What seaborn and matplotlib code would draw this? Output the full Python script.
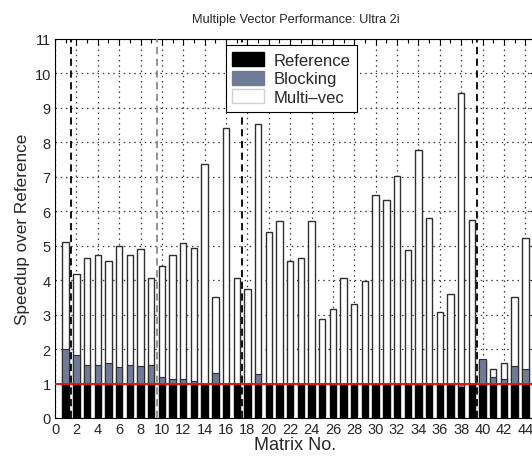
import pandas as pd
import seaborn as sns
import matplotlib.pyplot as plt
from matplotlib.patches import Patch
from matplotlib.ticker import MultipleLocator

# Speedup of each kernel over the reference implementation, per test matrix
matrices = [1, 2, 3, 4, 5, 6, 7, 8, 9, 10, 11, 12, 13, 14, 15, 16, 17, 18, 19, 20, 21, 22,
            23, 24, 25, 26, 27, 28, 29, 30, 31, 32, 33, 34, 35, 36, 37, 38, 39, 40, 41, 42, 43, 44]
reference = [1.00, 1.00, 1.00, 1.00, 1.00, 1.00, 1.00, 1.00, 1.00, 1.00, 1.00, 1.00, 1.00, 1.00,
             1.00, 1.00, 1.00, 1.00, 1.00, 1.00, 1.00, 1.00, 1.00, 1.00, 1.00, 1.00, 1.00, 1.00,
             1.00, 1.00, 1.00, 1.00, 1.00, 1.00, 1.00, 1.00, 1.00, 0.90, 1.00, 1.00, 1.00, 1.00,
             1.00, 1.00]
blocking = [2.00, 1.82, 1.55, 1.55, 1.60, 1.47, 1.55, 1.51, 1.55, 1.18, 1.13, 1.13, 1.08, 1.00,
            1.32, 1.00, 1.00, 1.00, 1.27, 1.00, 1.00, 1.00, 1.00, 1.00, 1.00, 1.00, 1.00, 1.00,
            1.00, 1.00, 1.00, 1.00, 1.00, 1.00, 1.00, 1.00, 1.00, 1.00, 1.00, 1.70, 1.19, 1.13,
            1.51, 1.41]
multivec = [5.12, 4.18, 4.65, 4.74, 4.56, 4.98, 4.74, 4.91, 4.07, 4.40, 4.74, 5.07, 4.92, 7.37,
            3.52, 8.42, 4.07, 3.73, 8.53, 5.39, 5.73, 4.55, 4.65, 5.71, 2.86, 3.15, 4.07, 3.32,
            3.98, 6.48, 6.33, 7.01, 4.88, 7.78, 5.81, 3.07, 3.60, 9.43, 5.76, 1.68, 1.41, 1.60,
            3.52, 5.22]
group_breaks = [1.5, 9.5, 17.5, 39.5]
break_colors = ["black", "#8a8a8a", "black", "black"]
series_names = ["Reference", "Blocking", "Multi\u2013vec"]

df = pd.DataFrame({"matrix": matrices, "reference": reference,
                   "blocking": blocking, "multivec": multivec})

sns.set_style("white")
plt.rcParams["font.family"] = ["Liberation Sans", "DejaVu Sans"]
plt.rcParams["font.size"] = 10

fig = plt.figure(figsize=(5.32, 4.60), dpi=100)
ax = fig.add_axes([55 / 532, 41 / 460, 481 / 532, 379 / 460])

blue = "#6d7b96"
edge = "#2e2e2e"
common = dict(x="matrix", native_scale=True, width=0.6, errorbar=None,
              saturation=1, ax=ax, zorder=3)
sns.barplot(data=df, y="multivec", color="white", edgecolor=edge, linewidth=1.0, **common)
sns.barplot(data=df, y="blocking", color=blue, edgecolor=edge, linewidth=0.8, **common)
sns.barplot(data=df, y="reference", color="black", edgecolor="black", linewidth=0.5, **common)

# group separators and the baseline
for xb, c in zip(group_breaks, break_colors):
    ax.axvline(xb, color=c, lw=1.3, dashes=(4, 2.5), zorder=4)
ax.axhline(1.0, color="#e8140c", lw=1.4, zorder=5)

ax.set_xlim(0, 45)
ax.set_ylim(0, 11)
ax.xaxis.set_major_locator(MultipleLocator(2))
ax.xaxis.set_minor_locator(MultipleLocator(1))
ax.yaxis.set_major_locator(MultipleLocator(1))
ax.grid(True, which="major", color="#3a3a3a", linestyle=(0, (1.2, 3.0)), linewidth=0.9, zorder=0)
ax.set_axisbelow(True)
ax.tick_params(which="both", direction="in", top=True, right=True, length=4,
               width=0.8, labelsize=10.5, pad=3, color="black")
ax.tick_params(which="minor", length=3)
for sp in ax.spines.values():
    sp.set_color("black")
    sp.set_linewidth(0.8)

ax.set_xlabel("Matrix No.", fontsize=13, labelpad=0)
ax.set_ylabel("Speedup over Reference", fontsize=12.3, labelpad=3)
ax.set_title("Multiple Vector Performance: Ultra 2i", fontsize=9.2, pad=12)

handles = [Patch(facecolor="black", edgecolor="black"),
           Patch(facecolor=blue, edgecolor=blue),
           Patch(facecolor="white", edgecolor="#d0d0d0")]
leg = ax.legend(handles, series_names, loc="upper left", bbox_to_anchor=(0.355, 0.983),
                fontsize=12, frameon=True, fancybox=False, framealpha=1,
                handlelength=1.9, handleheight=0.9, handletextpad=0.55,
                labelspacing=0.18, borderpad=0.4, borderaxespad=0)
leg.get_frame().set_edgecolor("black")
leg.get_frame().set_linewidth(0.8)
leg.set_zorder(10)

fig.savefig("out.png", dpi=100)
